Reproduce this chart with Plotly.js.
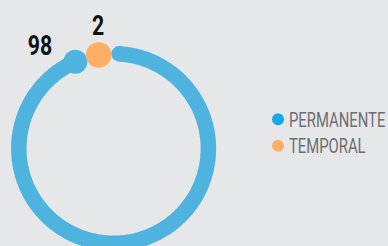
<!DOCTYPE html>
<html><head><meta charset="utf-8">
<script src="https://cdn.plot.ly/plotly-3.0.1.min.js"></script>
<style>
html,body{margin:0;padding:0;background:#e6e7e8;overflow:hidden}
#chart{width:388px;height:246px}
#chart text.legendtext{transform-box:fill-box;transform-origin:0% 50%;transform:scale(0.825,1.09)}
#chart text.annotation-text{transform-box:fill-box;transform-origin:50% 50%;transform:scaleX(0.76)}
#chart g.legendpoints{transform:translate(9px,0px)}
</style>
</head><body><div id="chart"></div>
<script>
// data
const categories = ["PERMANENTE", "TEMPORAL"];
const values = [98, 2];
const legendColors = ["#16a9e8", "#fdaf63"];
const ringColor = "#4fb3df";

// ring styling (angles in degrees, clockwise from top)
const startDeg = 3.3;
const gapDeg = 19.9;
const total = values.reduce((a, b) => a + b, 0);
const blueSweep = values[0] / total * 360 - gapDeg;
const blueEnd = startDeg + blueSweep;
const orangeDeg = blueEnd + (360 + startDeg - blueEnd) / 2 + 1.2;

const rad = d => d * Math.PI / 180;
const px = d => Math.sin(rad(d));
const py = d => Math.cos(rad(d));

const arcX = [], arcY = [];
const n = 400;
for (let i = 0; i <= n; i++) {
  const d = startDeg + blueSweep * i / n;
  arcX.push(px(d)); arcY.push(py(d));
}

const legendFont = "Roboto, 'Noto Sans', sans-serif";
const labelFont = "Roboto, 'Noto Sans', sans-serif";

const traces = [
  {x: arcX, y: arcY, mode: "lines", line: {color: ringColor, width: 15.5, simplify: false}, showlegend: false, hoverinfo: "skip"},
  {x: [px(startDeg), px(blueEnd)], y: [py(startDeg), py(blueEnd)], mode: "markers",
   marker: {color: ringColor, size: [15.5, 24], opacity: 1, line: {width: 0}}, showlegend: false, hoverinfo: "skip"},
  {x: [px(orangeDeg)], y: [py(orangeDeg)], mode: "markers",
   marker: {color: legendColors[1], size: 25.5, opacity: 1, line: {width: 0}}, showlegend: false, hoverinfo: "skip"},
  {x: [null], y: [null], mode: "markers", name: categories[0], marker: {color: legendColors[0], size: 12}},
  {x: [null], y: [null], mode: "markers", name: categories[1], marker: {color: legendColors[1], size: 12}}
];

const layout = {
  width: 388, height: 246,
  margin: {l: 0, r: 0, t: 0, b: 0, autoexpand: false},
  paper_bgcolor: "#e6e7e8", plot_bgcolor: "#e6e7e8",
  xaxis: {range: [-1.1983, 2.8945], visible: false, fixedrange: true},
  yaxis: {range: [-1.0285, 1.5665], visible: false, fixedrange: true},
  showlegend: true,
  legend: {x: 0.6418, y: 0.589, xanchor: "left", yanchor: "top", bgcolor: "rgba(0,0,0,0)",
           font: {family: legendFont, size: 18, color: "#6d6e71"}, itemclick: false, itemdoubleclick: false},
  annotations: [
    {x: px(blueEnd), y: py(blueEnd), xref: "x", yref: "y", text: String(values[0]), showarrow: false,
     xshift: -35, yshift: 16.5, font: {family: labelFont, size: 28, color: "#111111", weight: "bold"}},
    {x: px(orangeDeg), y: py(orangeDeg), xref: "x", yref: "y", text: String(values[1]), showarrow: false,
     xshift: -0.6, yshift: 29, font: {family: labelFont, size: 28, color: "#111111", weight: "bold"}}
  ]
};

Plotly.newPlot("chart", traces, layout, {staticPlot: true, displayModeBar: false});
</script></body></html>
